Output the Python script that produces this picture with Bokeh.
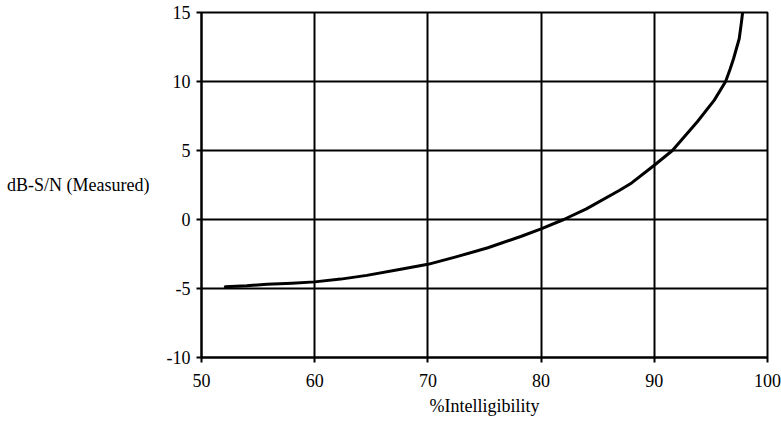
from bokeh.plotting import figure
from bokeh.models import FixedTicker, Range1d
from bokeh.embed import file_html
from bokeh.resources import INLINE

# Curve
intelligibility = [52.1, 54.0, 55.8, 58.0, 60.0, 62.3, 64.6, 67.6, 70.0, 72.4,
                   75.3, 78.2, 80.0, 82.0, 84.0, 86.9, 88.0, 90.0, 91.6, 93.8,
                   95.3, 96.3, 96.7, 97.0, 97.5, 97.7, 97.8]
snr_db = [-4.87, -4.80, -4.70, -4.62, -4.52, -4.32, -4.05, -3.60, -3.25, -2.73,
          -2.05, -1.23, -0.68, 0.0, 0.77, 2.10, 2.65, 3.93, 5.0, 7.08,
          8.65, 10.0, 10.9, 11.65, 13.1, 14.3, 15.0]

x_ticks = [50, 60, 70, 80, 90, 100]
y_ticks = [-10, -5, 0, 5, 10, 15]
y_tick_labels = ["-10", "-5", "0", "5", "10", "15"]

FONT = "Liberation Serif"

p = figure(width=781, height=423,
           x_range=Range1d(50, 100), y_range=Range1d(-10, 15),
           output_backend="svg", toolbar_location=None,
           min_border_left=201, min_border_right=14,
           min_border_top=12, min_border_bottom=66,
           background_fill_color="white", border_fill_color="white")

p.line(intelligibility, snr_db, line_width=3, line_color="black",
       line_join="round", line_cap="round")

p.xaxis.ticker = FixedTicker(ticks=x_ticks)
p.yaxis.ticker = FixedTicker(ticks=y_ticks)
p.yaxis.major_label_overrides = {t: s for t, s in zip(y_ticks, y_tick_labels)}
p.xgrid.ticker = FixedTicker(ticks=x_ticks)
p.ygrid.ticker = FixedTicker(ticks=y_ticks)

for g in (p.xgrid, p.ygrid):
    g.grid_line_color = "black"
    g.grid_line_width = 2
    g.grid_line_alpha = 1.0

p.outline_line_color = "black"
p.outline_line_width = 2
p.outline_line_alpha = 1.0

for ax in (p.xaxis, p.yaxis):
    ax.axis_line_color = "black"
    ax.axis_line_width = 2
    ax.major_tick_line_color = "black"
    ax.major_tick_line_width = 2
    ax.major_tick_out = 5
    ax.major_tick_in = 0
    ax.minor_tick_line_color = None
    ax.major_label_text_font = FONT
    ax.major_label_text_font_size = "18px"
    ax.major_label_text_color = "black"
    ax.axis_label_text_font = FONT
    ax.axis_label_text_font_size = "18px"
    ax.axis_label_text_font_style = "normal"
    ax.axis_label_text_color = "black"

p.xaxis.axis_label = "%Intelligibility"
p.yaxis.axis_label = "dB-S/N (Measured)"
p.yaxis.axis_label_orientation = "horizontal"
p.xaxis.major_label_standoff = 11
p.yaxis.major_label_standoff = 6
p.xaxis.axis_label_standoff = 6
p.yaxis.axis_label_standoff = 14

open("out.html", "w").write(file_html(p, INLINE))
